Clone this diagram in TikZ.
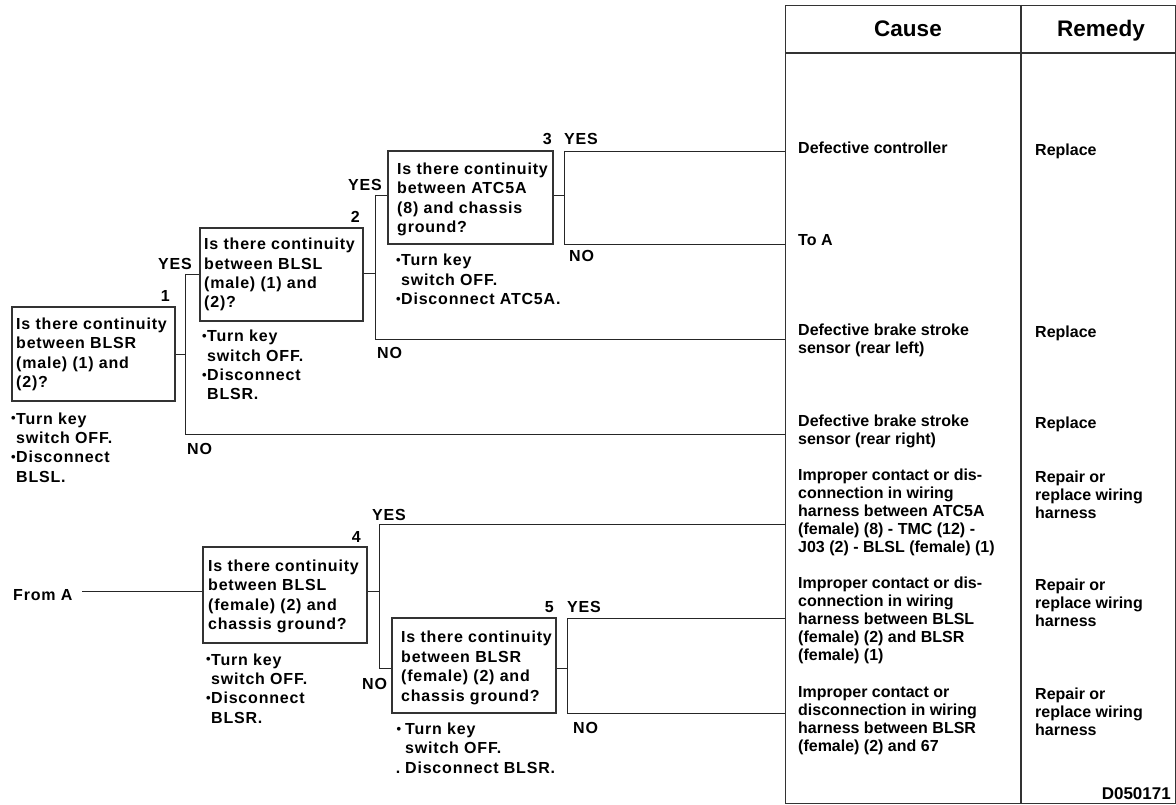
\documentclass[tikz,border=0pt]{standalone}
\usepackage{fontspec}
\setmainfont{Liberation Sans}
\newfontfamily\qf{Liberation Sans}[LetterSpace=5]
\newcommand\flh{\rule{0pt}{12.5pt}}
\newcommand\bul{\llap{\raisebox{1.5pt}{\fontsize{13}{13}\selectfont •}\hspace{0.5pt}}}
\begin{document}
\begin{tikzpicture}[x=1pt,y=-1pt,
  qbox/.style={draw=black!80, line width=1.2pt, inner sep=0, fill=none},
  conn/.style={draw=black!85, line width=0.9pt},
  qtext/.style={anchor=north west, inner sep=0, align=left, font=\qf\bfseries\fontsize{16}{19.5}\selectfont},
  ntext/.style={anchor=north west, inner sep=0, align=left, font=\qf\bfseries\fontsize{16}{19.3}\selectfont},
  ttext/.style={anchor=north west, inner sep=0, align=left, font=\bfseries\fontsize{16}{18}\selectfont},
  lbl/.style={anchor=base west, inner sep=0, font=\qf\bfseries\fontsize{16}{19}\selectfont},
  num/.style={anchor=base east, inner sep=0, font=\qf\bfseries\fontsize{16}{19}\selectfont},
  head/.style={anchor=base, inner sep=0, font=\bfseries\fontsize{22.5}{26}\selectfont}]
\useasboundingbox[fill=white] (0,0) rectangle (1176,805);

% table
\node[draw=black!80, line width=1.2pt, inner sep=0, minimum width=390, minimum height=798, anchor=north west] (tbl) at (785,5) {};
\draw[black!80, line width=1.2pt] (785,53) -- (1175,53);
\draw[black!80, line width=1.2pt] (1021,5) -- (1021,803);
\node[head] (hc) at (908,36.7) {Cause};
\node[head] (hr) at (1101,36.7) {Remedy};

% table rows
\node[ttext] (c1) at (798,140.8) {\flh Defective controller};
\node[ttext] (r1) at (1035,143.2) {\flh Replace};
\node[ttext] (c2) at (798,232.5) {\flh To A};
\node[ttext] (c3) at (798,322.5) {\flh Defective brake stroke\\sensor (rear left)};
\node[ttext] (r3) at (1035,324.8) {\flh Replace};
\node[ttext] (c4) at (798,413.5) {\flh Defective brake stroke\\sensor (rear right)};
\node[ttext] (r4) at (1035,415.5) {\flh Replace};
\node[ttext] (c5) at (798,467.5) {\flh Improper contact or dis-\\connection in wiring\\harness between ATC5A\\(female) (8) - TMC (12) -\\J03 (2) - BLSL (female) (1)};
\node[ttext] (r5) at (1035,470.2) {\flh Repair or\\replace wiring\\harness};
\node[ttext] (c6) at (798,575.8) {\flh Improper contact or dis-\\connection in wiring\\harness between BLSL\\(female) (2) and BLSR\\(female) (1)};
\node[ttext] (r6) at (1035,578.2) {\flh Repair or\\replace wiring\\harness};
\node[ttext] (c7) at (798,685.2) {\flh Improper contact or\\disconnection in wiring\\harness between BLSR\\(female) (2) and 67};
\node[ttext] (r7) at (1035,686.8) {\flh Repair or\\replace wiring\\harness};
\node[anchor=base east, inner sep=0, font=\bfseries\fontsize{17}{20}\selectfont] (code) at (1171,799) {D050171};

% question boxes
\node[qbox, minimum width=163, minimum height=94] (b1) at (93.5,354) {};
\node[qbox, minimum width=163, minimum height=93] (b2) at (281.5,274.5) {};
\node[qbox, minimum width=165, minimum height=93] (b3) at (470.5,197.5) {};
\node[qbox, minimum width=164, minimum height=96] (b4) at (285,595) {};
\node[qbox, minimum width=164, minimum height=95] (b5) at (474,665.5) {};

\node[qtext] (b1t) at (16,316.5) {\flh Is there continuity\\between BLSR\\(male) (1) and\\(2)?};
\node[qtext] (b2t) at (204,236.8) {\flh Is there continuity\\between BLSL\\(male) (1) and\\(2)?};
\node[qtext] (b3t) at (397,161.5) {\flh Is there continuity\\between ATC5A\\(8) and chassis\\ground?};
\node[qtext] (b4t) at (208,558.5) {\flh Is there continuity\\between BLSL\\(female) (2) and\\chassis ground?};
\node[qtext] (b5t) at (401,629.8) {\flh Is there continuity\\between BLSR\\(female) (2) and\\chassis ground?};

% notes
\node[ntext] (n1t) at (16,411.5) {\flh\bul Turn key\\switch OFF.\\\bul Disconnect\\BLSL.};
\node[ntext] (n2t) at (207,329.2) {\flh\bul Turn key\\switch OFF.\\\bul Disconnect\\BLSR.};
\node[ntext] (n3t) at (401,253.2) {\flh\bul Turn key\\switch OFF.\\\bul Disconnect ATC5A.};
\node[ntext] (n4t) at (211,652.5) {\flh\bul Turn key\\switch OFF.\\\bul Disconnect\\BLSR.};
\node[ntext] (n5t) at (405,721.8) {\flh\llap{\raisebox{1.5pt}{\fontsize{13}{13}\selectfont •}\hspace{4pt}}Turn key\\switch OFF.\\\llap{.\hspace{5pt}}Disconnect BLSR.};

% labels
\node[num] (l1) at (170,301.7) {1};
\node[lbl] (y1l) at (158,269.3) {YES};
\node[lbl] (n1l) at (187,454) {NO};
\node[num] (l2) at (360,222.3) {2};
\node[lbl] (y2l) at (348,190.7) {YES};
\node[lbl] (n2l) at (377,358) {NO};
\node[num] (l3) at (552,145) {3};
\node[lbl] (y3l) at (564,145) {YES};
\node[lbl] (n3l) at (569,261.7) {NO};
\node[lbl] (fa) at (13,600) {From A};
\node[num] (l4) at (361,542.3) {4};
\node[lbl] (y4l) at (372,520) {YES};
\node[lbl] (n4l) at (362,689) {NO};
\node[num] (l5) at (554,612.7) {5};
\node[lbl] (y5l) at (567,612.7) {YES};
\node[lbl] (n5l) at (573,733.3) {NO};

% junction coordinates
\coordinate (o1) at (185,354); \coordinate (y1) at (185,274); \coordinate (n1) at (185,434);
\coordinate (o2) at (375,273); \coordinate (y2) at (375,195); \coordinate (n2) at (375,339);
\coordinate (o3) at (564,195); \coordinate (y3) at (564,151); \coordinate (n3) at (564,244);
\coordinate (o4) at (379,591); \coordinate (y4) at (379,524); \coordinate (n4) at (379,668);
\coordinate (o5) at (567,668); \coordinate (y5) at (567,618); \coordinate (n5) at (567,713);
\coordinate (fa0) at (82,591);

% connectors
\draw[conn] (b1.east |- o1) -- (o1);
\draw[conn] (y1) -- (n1);
\draw[conn] (y1) -- (b2.west |- y1);
\draw[conn] (n1) -- (tbl.west |- n1);

\draw[conn] (b2.east |- o2) -- (o2);
\draw[conn] (y2) -- (n2);
\draw[conn] (y2) -- (b3.west |- y2);
\draw[conn] (n2) -- (tbl.west |- n2);

\draw[conn] (b3.east |- o3) -- (o3);
\draw[conn] (y3) -- (n3);
\draw[conn] (y3) -- (tbl.west |- y3);
\draw[conn] (n3) -- (tbl.west |- n3);

\draw[conn] (fa0) -- (b4.west |- fa0);
\draw[conn] (b4.east |- o4) -- (o4);
\draw[conn] (y4) -- (n4);
\draw[conn] (y4) -- (tbl.west |- y4);
\draw[conn] (n4) -- (b5.west |- n4);

\draw[conn] (b5.east |- o5) -- (o5);
\draw[conn] (y5) -- (n5);
\draw[conn] (y5) -- (tbl.west |- y5);
\draw[conn] (n5) -- (tbl.west |- n5);
\end{tikzpicture}
\end{document}
